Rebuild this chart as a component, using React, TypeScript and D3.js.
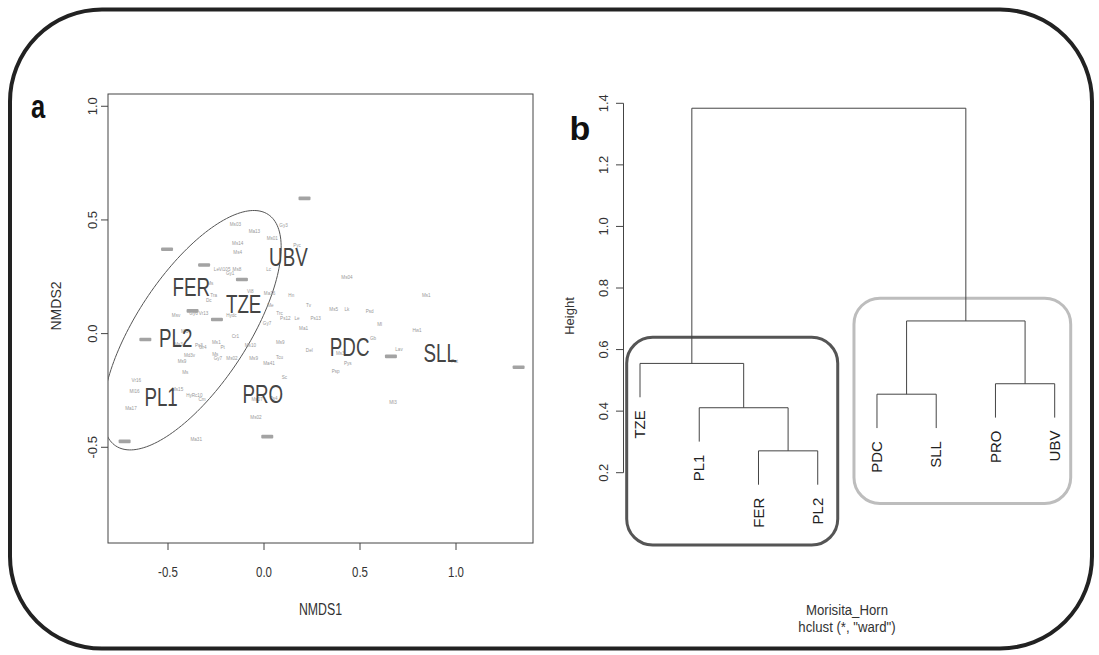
import React from "react";
import * as d3 from "d3";

// ---------- Panel a : NMDS ordination ----------
const siteNames = ["UBV", "FER", "TZE", "PL2", "PDC", "SLL", "PL1", "PRO"];
const siteX = [0.127, -0.379, -0.106, -0.46, 0.446, 0.918, -0.536, -0.006];
const siteY = [0.339, 0.207, 0.129, -0.018, -0.06, -0.087, -0.278, -0.267];

const speciesCodes = [
  "Ms03", "Ma13", "Gy3", "Ms01", "Ms14", "Ms4", "Pyc", "Le", "Vi105", "Ms8", "Gy1", "Lc",
  "Ms04", "Ms1", "Ms", "Tra", "Dc", "Vi8", "Ma16", "Hn", "Tv", "Me", "Ms5", "Lk", "Psd",
  "Msv", "Gy6", "Vr13", "Hydc", "Trc", "Ps12", "Le", "Ps13", "Gy7", "Ml", "Ma1", "Hw1",
  "Cr1", "Ml3", "Ms3", "Ps3", "Gr4", "Ms1", "Pt", "Ms10", "Ms9", "Del", "Gb", "Ms3", "Lav",
  "Pat", "Md3v", "Ms9", "Ms", "Gy7", "Ms02", "Ms9", "Tcu", "Ma41", "Pys", "Psp", "Ms", "Sc",
  "Vr16", "Ml16", "Ms15", "HyRc10", "Cm", "Ma17", "Ms07", "Ps4", "Ml3", "Ms02", "Ma31",
];
const speciesX = [
  -0.149, -0.05, 0.102, 0.043, -0.137, -0.137, 0.172, -0.248, -0.205, -0.141, -0.176, 0.024,
  0.432, 0.845, -0.28, -0.262, -0.288, -0.071, 0.029, 0.142, 0.232, 0.033, 0.363, 0.432, 0.55,
  -0.458, -0.367, -0.315, -0.17, 0.081, 0.111, 0.172, 0.269, 0.016, 0.602, 0.206, 0.797,
  -0.149, -0.413, -0.445, -0.339, -0.319, -0.248, -0.215, -0.071, 0.085, 0.236, 0.568, 0.397, 0.703,
  0.993, -0.388, -0.427, -0.254, -0.24, -0.167, -0.054, 0.081, 0.026, 0.436, 0.373, -0.41, 0.106,
  -0.665, -0.674, -0.45, -0.363, -0.323, -0.693, -0.036, 0.05, 0.672, -0.042, -0.353,
];
const speciesY = [
  0.481, 0.449, 0.478, 0.417, 0.399, 0.358, 0.389, 0.282, 0.282, 0.282, 0.267, 0.282,
  0.246, 0.167, 0.22, 0.17, 0.147, 0.185, 0.176, 0.17, 0.126, 0.126, 0.106, 0.106, 0.097,
  0.082, 0.088, 0.091, 0.079, 0.088, 0.067, 0.067, 0.067, 0.047, 0.041, 0.023, 0.015,
  -0.012, 0.01, -0.048, -0.05, -0.059, -0.038, -0.059, -0.053, -0.038, -0.075, -0.021, -0.085, -0.07,
  -0.122, -0.097, -0.122, -0.091, -0.111, -0.111, -0.109, -0.103, -0.132, -0.132, -0.166, -0.169, -0.191,
  -0.205, -0.254, -0.246, -0.271, -0.29, -0.33, -0.29, -0.283, -0.302, -0.37, -0.466,
];
// overlapping species labels rendered as grey smudges
const overlapX = [0.211, -0.505, -0.312, -0.115, -0.372, -0.245, -0.618, 0.661, 1.326, -0.726, 0.017];
const overlapY = [0.595, 0.371, 0.302, 0.238, 0.1, 0.062, -0.026, -0.1, -0.148, -0.474, -0.453];

const nmdsTicks = [-0.5, 0.0, 0.5, 1.0];
const ellipseCenter = [-0.375, 0.015];
const ellipseAxisU = [0.397, 0.509];
const ellipseAxisV = [0.241, -0.135];

// ---------- Panel b : dendrogram ----------
const leafNames = ["TZE", "PL1", "FER", "PL2", "PDC", "SLL", "PRO", "UBV"];
const mergeA = [-3, -2, -1, -5, -7, 4, 3];
const mergeB = [-4, 1, 2, -6, -8, 5, 6];
const mergeH = [0.271, 0.411, 0.555, 0.455, 0.489, 0.693, 1.384];
const leafHang = 0.11;
const heightTicks = [0.2, 0.4, 0.6, 0.8, 1.0, 1.2, 1.4];
const clusterFirst = [1, 5];
const clusterLast = [4, 8];
const clusterTop = [0.64, 0.767];
const clusterBottom = [-0.035, 0.1];

const FONT = "'Liberation Sans', Arial, Helvetica, sans-serif";

function T(props: any) {
  const { x, y, sx = 1, rot = 0, size, anchor = "middle", fill = "#222", weight = "normal", dy = "0", children } = props;
  return (
    <text
      transform={`translate(${x},${y}) scale(${sx},1) rotate(${rot})`}
      fontSize={size}
      fontFamily={FONT}
      fontWeight={weight}
      textAnchor={anchor}
      fill={fill}
      dy={dy}
    >
      {children}
    </text>
  );
}

export default function App() {
  // panel a scales
  const ax = d3.scaleLinear().domain([-0.8125, 1.401]).range([108, 533]);
  const ay = d3.scaleLinear().domain([-0.921, 1.054]).range([543, 94]);
  const [bx0, bx1] = ax.range();
  const [by0, by1] = [ay(1.054), ay(-0.921)];

  const ts = d3.range(0, 2 * Math.PI + 0.001, Math.PI / 90);
  const ellipsePath =
    d3
      .line<number>()
      .x((t) => ax(ellipseCenter[0] + ellipseAxisU[0] * Math.cos(t) + ellipseAxisV[0] * Math.sin(t)))
      .y((t) => ay(ellipseCenter[1] + ellipseAxisU[1] * Math.cos(t) + ellipseAxisV[1] * Math.sin(t)))(ts) || "";

  // panel b scales
  const dx = d3.scaleLinear().domain([1, 8]).range([640, 1054.7]);
  const dyS = d3.scaleLinear().domain([0.2, 1.4]).range([472.7, 103.3]);

  const nodeX: number[] = [];
  const childX = (c: number) => (c < 0 ? dx(-c) : nodeX[c - 1]);
  mergeA.forEach((a, i) => {
    nodeX[i] = (childX(a) + childX(mergeB[i])) / 2;
  });
  const leafH: number[] = [];
  const segs: string[] = [];
  mergeA.forEach((a, i) => {
    const b = mergeB[i];
    const h = mergeH[i];
    const top = (c: number) => {
      if (c < 0) {
        leafH[-c - 1] = h - leafHang;
        return h - leafHang;
      }
      return mergeH[c - 1];
    };
    const xa = childX(a), xb = childX(b);
    const ta = top(a), tb = top(b);
    segs.push(`M${xa},${dyS(ta)}V${dyS(h)}H${xb}V${dyS(tb)}`);
  });

  const axisCol = "#444";

  return (
    <svg width={1099} height={655} style={{ position: "fixed", left: 0, top: 0, background: "#fff" }}>
      <rect x={0} y={0} width={1099} height={655} fill="#fff" />
      {/* outer frame */}
      <rect x={10} y={9.5} width={1082} height={639} rx={92} ry={92} fill="none" stroke="#222" strokeWidth={4} />

      {/* ---------------- panel a ---------------- */}
      <defs>
        <clipPath id="boxA">
          <rect x={bx0} y={by0} width={bx1 - bx0} height={by1 - by0} />
        </clipPath>
      </defs>
      <T x={31} y={118} size={34} weight="bold" sx={0.75} anchor="start" fill="#111">a</T>
      <rect x={bx0} y={by0} width={bx1 - bx0} height={by1 - by0} fill="none" stroke={axisCol} strokeWidth={1} />
      {nmdsTicks.map((t) => (
        <g key={"xt" + t}>
          <line x1={ax(t)} x2={ax(t)} y1={by1} y2={by1 + 7} stroke={axisCol} />
          <T x={ax(t)} y={577} size={14} sx={0.82} fill="#333">{t.toFixed(1)}</T>
        </g>
      ))}
      {nmdsTicks.map((t) => (
        <g key={"yt" + t}>
          <line x1={bx0 - 7} x2={bx0} y1={ay(t)} y2={ay(t)} stroke={axisCol} />
          <T x={92} y={ay(t)} size={13} rot={-90} dy="0.35em" fill="#333">{t.toFixed(1)}</T>
        </g>
      ))}
      <T x={(bx0 + bx1) / 2} y={615} size={16} sx={0.77} fill="#333">NMDS1</T>
      <T x={56} y={306} size={14} rot={-90} dy="0.35em" fill="#333">NMDS2</T>

      <g clipPath="url(#boxA)">
        <path d={ellipsePath} fill="none" stroke="#555" strokeWidth={1} />
        {speciesCodes.map((s, i) => (
          <T key={"sp" + i} x={ax(speciesX[i])} y={ay(speciesY[i])} size={4.6} dy="0.35em" fill="#999">{s}</T>
        ))}
        {overlapX.map((v, i) => (
          <rect key={"ov" + i} x={ax(v) - 6} y={ay(overlapY[i]) - 1.8} width={12} height={3.6} rx={1} fill="#a3a3a3" />
        ))}
        {siteNames.map((s, i) => (
          <T key={"site" + s} x={ax(siteX[i])} y={ay(siteY[i])} size={25} sx={0.75} dy="0.36em" fill="#444">{s}</T>
        ))}
      </g>

      {/* ---------------- panel b ---------------- */}
      <T x={569.5} y={140} size={34} weight="bold" anchor="start" fill="#111">b</T>
      <line x1={623.5} x2={623.5} y1={dyS(0.2)} y2={dyS(1.4)} stroke={axisCol} />
      {heightTicks.map((t) => (
        <g key={"ht" + t}>
          <line x1={616} x2={623.5} y1={dyS(t)} y2={dyS(t)} stroke={axisCol} />
          <T x={603} y={dyS(t)} size={13} rot={-90} dy="0.35em" fill="#333">{t.toFixed(1)}</T>
        </g>
      ))}
      <T x={569} y={316} size={13} rot={-90} dy="0.35em" fill="#333">Height</T>

      {clusterFirst.map((f, i) => {
        const padL = i === 0 ? 13.3 : 23;
        const padR = i === 0 ? 20 : 16;
        const x0 = dx(f) - padL;
        const x1 = dx(clusterLast[i]) + padR;
        const y0 = dyS(clusterTop[i]);
        const y1 = dyS(clusterBottom[i]);
        return (
          <rect key={"cl" + i} x={x0} y={y0} width={x1 - x0} height={y1 - y0} rx={26} ry={26}
            fill="none" stroke={i === 0 ? "#555" : "#bdbdbd"} strokeWidth={3} />
        );
      })}

      {segs.map((d, i) => (
        <path key={"seg" + i} d={d} fill="none" stroke="#444" strokeWidth={1} />
      ))}
      {leafNames.map((n, i) => (
        <T key={"leaf" + n} x={dx(i + 1)} y={dyS(leafH[i]) + 13} size={15} rot={-90} anchor="end" dy="0.35em" fill="#222">{n}</T>
      ))}

      <T x={847} y={615} size={15} sx={0.88} fill="#333">Morisita_Horn</T>
      <T x={847} y={632} size={15} sx={0.88} fill="#333">hclust (*, "ward")</T>
    </svg>
  );
}
